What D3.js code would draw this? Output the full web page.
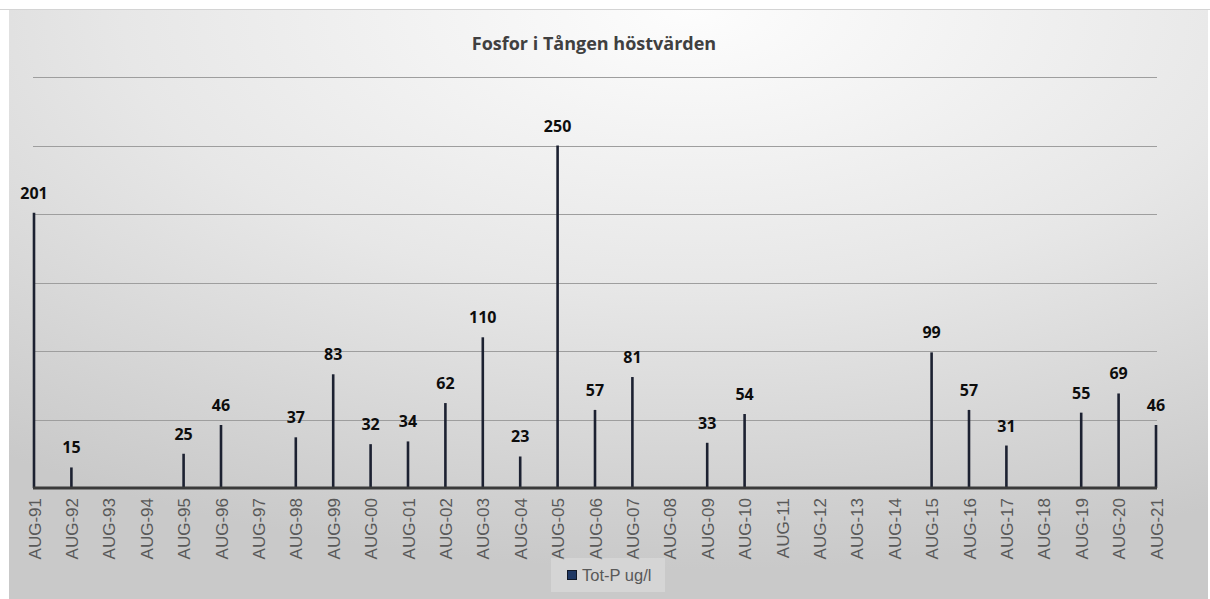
<!DOCTYPE html>
<html>
<head>
<meta charset="utf-8">
<script src="https://cdn.jsdelivr.net/npm/d3@7"></script>
<style>
  html, body { margin: 0; padding: 0; background: #ffffff; }
  svg { display: block; }
</style>
</head>
<body>
<svg id="chart" width="1210" height="599"></svg>
<script>
// Autumn phosphorus readings (Tot-P, ug/l), one per August sample
const categories = [
  "AUG-91","AUG-92","AUG-93","AUG-94","AUG-95","AUG-96","AUG-97","AUG-98","AUG-99","AUG-00",
  "AUG-01","AUG-02","AUG-03","AUG-04","AUG-05","AUG-06","AUG-07","AUG-08","AUG-09","AUG-10",
  "AUG-11","AUG-12","AUG-13","AUG-14","AUG-15","AUG-16","AUG-17","AUG-18","AUG-19","AUG-20","AUG-21"
];
const totP = [
  201, 15, null, null, 25, 46, null, 37, 83, 32,
  34, 62, 110, 23, 250, 57, 81, null, 33, 54,
  null, null, null, null, 99, 57, 31, null, 55, 69, 46
];
const gridValues = [50, 100, 150, 200, 250, 300];
const chartTitle = "Fosfor i Tången höstvärden";
const seriesName = "Tot-P ug/l";

const svg = d3.select("#chart");
const W = 1210, H = 599;

// Background panel with soft radial shading
const defs = svg.append("defs");
const grad = defs.append("radialGradient")
  .attr("id", "bg")
  .attr("cx", "57%").attr("cy", "0%").attr("r", "95%")
  .attr("fx", "57%").attr("fy", "0%");
grad.append("stop").attr("offset", "0%").attr("stop-color", "#fdfdfd");
grad.append("stop").attr("offset", "50%").attr("stop-color", "#e7e7e7");
grad.append("stop").attr("offset", "100%").attr("stop-color", "#c9c9c9");

svg.append("rect").attr("x", 0).attr("y", 0).attr("width", W).attr("height", H).attr("fill", "#ffffff");
svg.append("line").attr("x1", 0).attr("x2", W).attr("y1", 9.5).attr("y2", 9.5)
  .attr("stroke", "#d4d4d4").attr("stroke-width", 1);
svg.append("rect")
  .attr("x", 9).attr("y", 10).attr("width", W - 9 - 2).attr("height", H - 10)
  .attr("fill", "url(#bg)");

// Scales
const x = d3.scalePoint().domain(categories).range([34, 1156]);
const y = d3.scaleLinear().domain([0, 300]).range([488, 77]);

// Horizontal gridlines
svg.append("g").selectAll("line")
  .data(gridValues)
  .join("line")
  .attr("x1", 33).attr("x2", 1157)
  .attr("y1", d => Math.round(y(d)) + 0.5)
  .attr("y2", d => Math.round(y(d)) + 0.5)
  .attr("stroke", "#9e9e9e")
  .attr("stroke-width", 1.2);

// Title
svg.append("text")
  .attr("x", 594).attr("y", 50)
  .attr("text-anchor", "middle")
  .attr("font-family", "'Open Sans', sans-serif")
  .attr("font-weight", 700)
  .attr("font-size", 18)
  .attr("fill", "#404040")
  .text(chartTitle);

const points = categories.map((c, i) => ({ cat: c, value: totP[i] })).filter(d => d.value != null);

// Value stems
svg.append("g").selectAll("line")
  .data(points)
  .join("line")
  .attr("x1", d => x(d.cat)).attr("x2", d => x(d.cat))
  .attr("y1", y(0)).attr("y2", d => y(d.value))
  .attr("stroke", "#1c2131")
  .attr("stroke-width", 2.6);

// Category axis
const xAxis = svg.append("g")
  .attr("transform", `translate(0,${y(0)})`)
  .call(d3.axisBottom(x).tickSize(0).tickSizeOuter(0));
xAxis.select(".domain")
  .attr("d", `M33,0H1157`)
  .attr("stroke", "#3a3a3a")
  .attr("stroke-width", 3);
xAxis.selectAll(".tick text")
  .attr("transform", "rotate(-90)")
  .attr("x", -10)
  .attr("y", 0)
  .attr("dy", "0.36em")
  .attr("text-anchor", "end")
  .attr("font-family", "'Liberation Sans', Arial, sans-serif")
  .attr("font-size", 17)
  .attr("fill", "#595959");

// Value labels
svg.append("g").selectAll("text")
  .data(points)
  .join("text")
  .attr("x", d => x(d.cat))
  .attr("y", d => y(d.value) - 14)
  .attr("text-anchor", "middle")
  .attr("font-family", "'Open Sans', sans-serif")
  .attr("font-weight", 700)
  .attr("font-size", 16)
  .attr("fill", "#0d0d0d")
  .text(d => d.value);

// Legend
const legend = svg.append("g").attr("transform", "translate(551,558)");
legend.append("rect")
  .attr("width", 114).attr("height", 34)
  .attr("fill", "#ffffff").attr("fill-opacity", 0.22);
legend.append("rect")
  .attr("x", 16.5).attr("y", 12.5).attr("width", 9).attr("height", 9)
  .attr("fill", "#1f3864").attr("stroke", "#111827").attr("stroke-width", 1);
legend.append("text")
  .attr("x", 31).attr("y", 23)
  .attr("font-family", "'Liberation Sans', Arial, sans-serif")
  .attr("font-size", 16.5)
  .attr("fill", "#595959")
  .text(seriesName);
</script>
</body>
</html>
